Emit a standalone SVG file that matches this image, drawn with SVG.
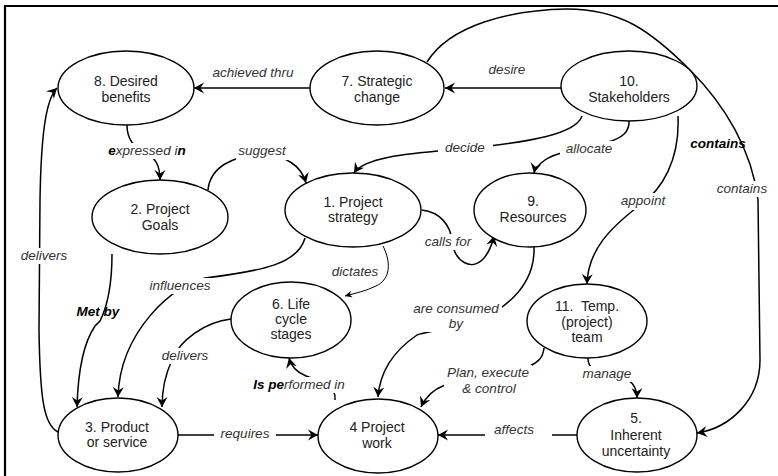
<svg xmlns="http://www.w3.org/2000/svg" width="778" height="476" viewBox="0 0 778 476">
  <style>
    .node ellipse { fill: #fff; stroke: #000; stroke-width: 1.4; }
    .node text { font-family: "Liberation Sans", Arial, sans-serif; font-size: 14px; fill: #222; text-anchor: middle; }
    .edge { fill: none; stroke: #000; stroke-width: 1.5; }
    .thin { stroke-width: 1; }
    .lbl { font-family: "Liberation Sans", Arial, sans-serif; font-size: 13.5px; font-style: italic; fill: #333; text-anchor: middle; }
    .bg { fill: #fff; }
    .b { font-weight: bold; fill: #000; }
  </style>
  <defs>
    <marker id="arrow" viewBox="-10 -6 12 12" refX="0" refY="0" markerWidth="12" markerHeight="12" markerUnits="userSpaceOnUse" orient="auto">
      <path d="M0,0 L-10,-5.5 L-6.5,0 L-10,5.5 Z" fill="#000"/>
    </marker>
    <marker id="arrowS" viewBox="-8 -5 10 10" refX="0" refY="0" markerWidth="10" markerHeight="10" markerUnits="userSpaceOnUse" orient="auto">
      <path d="M0,0 L-7,-3.5 L-5,0 L-7,3.5 Z" fill="#000"/>
    </marker>
  </defs>

  <rect width="778" height="476" fill="#fff"/>
  <!-- frame -->
  <path d="M5,476 L5,6 L778,6" fill="none" stroke="#000" stroke-width="2.2"/>

  <g id="connectors">
    <!-- 7 -> 8 achieved thru -->
    <path class="edge" d="M310,88 L194,88" marker-end="url(#arrow)"/>
    <!-- 10 -> 7 desire -->
    <path class="edge" d="M561,88 L445,88" marker-end="url(#arrow)"/>
    <!-- 7 -> 5 contains -->
    <path class="edge" d="M427,62 C450,25 510,10 567,9 C620,9 650,30 690,70 C725,105 752,150 758,200 L760,360 C760,400 730,428 697,433" marker-end="url(#arrow)"/>
    <!-- 10 -> 1 decide -->
    <path class="edge" d="M582,116 C576,134 530,142 470,148 C420,153 366,155 354,173" marker-end="url(#arrow)"/>
    <!-- 10 -> 9 allocate -->
    <path class="edge" d="M629,120 C630,132 622,138 608,142 C585,148 556,152 545,160 C538,165 535,168 534,173" marker-end="url(#arrow)"/>
    <!-- 10 -> 11 appoint -->
    <path class="edge" d="M678,116 C680,160 662,190 640,205 C610,228 588,250 587,284" marker-end="url(#arrow)"/>
    <!-- 8 -> 2 expressed in -->
    <path class="edge" d="M127,125 C127,140 135,148 145,152 C156,158 160,166 160,180" marker-end="url(#arrow)"/>
    <!-- 2 -> 1 suggest -->
    <path class="edge" d="M208,190 C210,168 232,155 262,155 C285,155 301,165 306,183" marker-end="url(#arrow)"/>
    <!-- 1 -> 9 calls for -->
    <path class="edge" d="M422,210 C440,212 450,225 452,240 C454,262 472,272 484,258 C489,252 492,245 494,236" marker-end="url(#arrow)"/>
    <!-- 1 -> 6 dictates -->
    <path class="edge thin" d="M383,246 C391,262 391,279 376,286 C366,291 356,293 345,296" marker-end="url(#arrowS)"/>
    <!-- 1 -> 3 influences -->
    <path class="edge" d="M305,238 C298,264 262,271 205,278 C175,284 120,330 118,397" marker-end="url(#arrow)"/>
    <!-- 2 -> 3 Met by -->
    <path class="edge" d="M112,254 C112,280 108,305 100,321 L95,326 C84,342 78,372 77,407" marker-end="url(#arrow)"/>
    <!-- 3 -> 8 delivers -->
    <path class="edge" d="M58,432 C44,425 40,400 39,330 L40,200 C41,140 45,100 57,88" marker-end="url(#arrow)"/>
    <!-- 6 -> 3 delivers -->
    <path class="edge" d="M231,319 C205,322 180,340 172,360 C165,375 162,390 162,407" marker-end="url(#arrow)"/>
    <!-- 3 -> 4 requires -->
    <path class="edge" d="M178,435 L318,435" marker-end="url(#arrow)"/>
    <!-- 4 -> 6 Is performed in -->
    <path class="edge" d="M335,400 C337,385 318,380 306,376 C296,372 291,366 289,358" marker-end="url(#arrow)"/>
    <!-- 9 -> 4 are consumed by -->
    <path class="edge" d="M534,247 C535,275 520,295 498,310 C460,330 430,330 417,335 C395,350 380,370 378,397" marker-end="url(#arrow)"/>
    <!-- 11 -> 4 Plan, execute & control -->
    <path class="edge" d="M544,348 C543,358 538,362 530,366 C500,378 460,380 445,385 C432,390 425,398 421,407" marker-end="url(#arrow)"/>
    <!-- 11 -> 5 manage -->
    <path class="edge" d="M588,358 C588,366 592,369 600,371 C620,376 637,378 637,398" marker-end="url(#arrow)"/>
    <!-- 5 -> 4 affects -->
    <path class="edge" d="M577,435 L438,435" marker-end="url(#arrow)"/>

    <!-- connector labels -->
    <g id="labels">
      <text class="lbl" x="253" y="77">achieved thru</text>
      <text class="lbl" x="507" y="74">desire</text>
      <rect class="bg" x="104" y="143" width="84" height="16"/>
      <text class="lbl" x="147" y="155"><tspan class="b">e</tspan>xpressed i<tspan class="b">n</tspan></text>
      <rect class="bg" x="236" y="143" width="52" height="17"/>
      <text class="lbl" x="262" y="155">suggest</text>
      <rect class="bg" x="438" y="140" width="55" height="16"/>
      <text class="lbl" x="465" y="152">decide</text>
      <rect class="bg" x="560" y="141" width="58" height="16"/>
      <text class="lbl" x="589" y="153">allocate</text>
      <text class="lbl b" x="718" y="148">contains</text>
      <rect class="bg" x="716" y="181" width="54" height="16"/>
      <text class="lbl" x="742" y="193">contains</text>
      <rect class="bg" x="615" y="193" width="56" height="17"/>
      <text class="lbl" x="643" y="205">appoint</text>
      <rect class="bg" x="420" y="234" width="56" height="16"/>
      <text class="lbl" x="448" y="246">calls for</text>
      <text class="lbl" x="355" y="276">dictates</text>
      <rect class="bg" x="145" y="278" width="70" height="16"/>
      <text class="lbl" x="180" y="290">influences</text>
      <rect class="bg" x="16" y="248" width="58" height="16"/>
      <text class="lbl" x="44" y="260">delivers</text>
      <text class="lbl b" x="98" y="316">Met by</text>
      <rect class="bg" x="157" y="348" width="58" height="16"/>
      <text class="lbl" x="185" y="360">delivers</text>
      <rect class="bg" x="248" y="377" width="104" height="16"/>
      <text class="lbl" x="299" y="389"><tspan class="b">Is pe</tspan>rformed in</text>
      <rect class="bg" x="214" y="426" width="62" height="17"/>
      <text class="lbl" x="245" y="438">requires</text>
      <rect class="bg" x="410" y="301" width="92" height="31"/>
      <text class="lbl" x="456" y="313">are consumed</text>
      <text class="lbl" x="456" y="328">by</text>
      <rect class="bg" x="444" y="365" width="88" height="31"/>
      <text class="lbl" x="488" y="377">Plan, execute</text>
      <text class="lbl" x="489" y="393">&amp; control</text>
      <rect class="bg" x="580" y="366" width="54" height="16"/>
      <text class="lbl" x="607" y="378">manage</text>
      <rect class="bg" x="485" y="424" width="67" height="16"/>
      <text class="lbl" x="514" y="434">affects</text>
    </g>
  </g>

  <g id="n8" class="node">
    <ellipse cx="126" cy="88" rx="68" ry="37"/>
    <text x="126" y="86">8. Desired</text>
    <text x="126" y="102">benefits</text>
  </g>
  <g id="n7" class="node">
    <ellipse cx="377" cy="88" rx="67" ry="37"/>
    <text x="377" y="86">7. Strategic</text>
    <text x="377" y="102">change</text>
  </g>
  <g id="n10" class="node">
    <ellipse cx="629" cy="86" rx="68" ry="35"/>
    <text x="629" y="86">10.</text>
    <text x="629" y="102">Stakeholders</text>
  </g>
  <g id="n2" class="node">
    <ellipse cx="160" cy="217" rx="68" ry="37"/>
    <text x="160" y="214">2. Project</text>
    <text x="160" y="230">Goals</text>
  </g>
  <g id="n1" class="node">
    <ellipse cx="353" cy="210" rx="68" ry="37"/>
    <text x="353" y="207">1. Project</text>
    <text x="353" y="222">strategy</text>
  </g>
  <g id="n9" class="node">
    <ellipse cx="530" cy="210" rx="56" ry="37"/>
    <text x="533" y="206">9.</text>
    <text x="533" y="222">Resources</text>
  </g>
  <g id="n6" class="node">
    <ellipse cx="291" cy="320" rx="60" ry="38"/>
    <text x="291" y="309">6. Life</text>
    <text x="291" y="324">cycle</text>
    <text x="291" y="339">stages</text>
  </g>
  <g id="n11" class="node">
    <ellipse cx="587" cy="321" rx="60" ry="37"/>
    <text x="587" y="311" xml:space="preserve">11.  Temp.</text>
    <text x="587" y="327">(project)</text>
    <text x="587" y="342">team</text>
  </g>
  <g id="n3" class="node">
    <ellipse cx="118" cy="435" rx="60" ry="37"/>
    <text x="117" y="432">3. Product</text>
    <text x="117" y="447">or service</text>
  </g>
  <g id="n4" class="node">
    <ellipse cx="378" cy="436" rx="60" ry="37"/>
    <text x="377" y="432">4 Project</text>
    <text x="377" y="448">work</text>
  </g>
  <g id="n5" class="node">
    <ellipse cx="637" cy="435" rx="60" ry="37"/>
    <text x="636" y="423">5.</text>
    <text x="636" y="440">Inherent</text>
    <text x="636" y="456">uncertainty</text>
  </g>
</svg>
